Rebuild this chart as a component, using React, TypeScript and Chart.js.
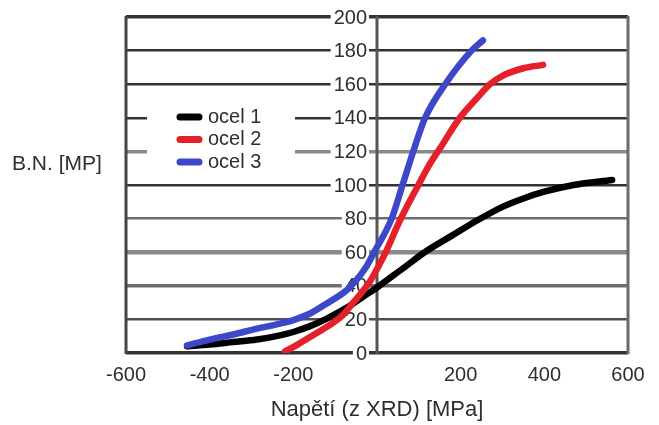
import React, { useEffect, useRef } from 'react';
import { Chart, registerables } from 'chart.js';

Chart.register(...registerables);

// ---- data ----
const seriesNames = ['ocel 1', 'ocel 2', 'ocel 3'];
const seriesColors = ['#000000', '#e4202a', '#3d47c9'];

const ocel1X = [-454, -400, -344, -287, -232, -200, -160, -120, -72, -30, 0, 60, 120, 180, 240, 300, 350, 400, 470, 562];
const ocel1Y = [4, 5, 6.5, 8, 10.5, 12.5, 16, 20.5, 27, 34, 39, 50, 61, 70, 79, 87, 92, 96, 100, 103];

const ocel2X = [-220, -190, -160, -130, -105, -80, -57, -35, -17, 0, 19, 55, 99, 125, 151, 198, 240, 270, 300, 350, 397];
const ocel2Y = [1, 5, 9.5, 14, 18, 23, 30, 36.5, 42.5, 50, 59, 79, 100, 112, 122, 140, 152, 160, 165, 169.5, 171.5];

const ocel3X = [-454, -400, -344, -287, -232, -200, -160, -120, -72, -41, -24, -9, 35, 61, 88, 115, 163, 226, 253];
const ocel3Y = [4.5, 8, 11, 14.5, 17.5, 19.6, 23.5, 29.5, 37.5, 46, 52, 59, 80, 100, 121, 140, 160, 180, 186];

const xMin = -600;
const xMax = 600;
const xStep = 200;
const yMin = 0;
const yMax = 200;
const yStep = 20;

const xTitle = 'Napětí (z XRD) [MPa]';
const yTitle = 'B.N. [MP]';

// ---- styles ----
const FONT = '"Liberation Sans", Arial, Helvetica, sans-serif';
const TEXT = '#2e2e2e';

function gridColor(v: number) {
  if (v === 120 || v === 60) return '#8a8a8a';
  if (v === 80 || v === 40) return '#6e6e6e';
  if (v === 20) return '#505050';
  return '#333333';
}
function gridWidth(v: number) {
  if (v === 60) return 4.5;
  if (v === 120 || v === 40 || v === 0 || v === 200) return 3.5;
  return 2.5;
}

const decorPlugin = {
  id: 'decor',
  beforeDatasetsDraw(chart: any) {
    const { ctx, chartArea: a, scales } = chart;
    const x0 = scales.x.getPixelForValue(0);
    ctx.save();
    ctx.setLineDash([]);
    ctx.globalCompositeOperation = 'source-over';
    ctx.globalAlpha = 1;

    // y tick labels beside the vertical axis (white box behind each)
    ctx.font = `20px ${FONT}`;
    ctx.textAlign = 'right';
    ctx.textBaseline = 'middle';
    scales.y.ticks.forEach((t: any) => {
      const yy = scales.y.getPixelForValue(t.value);
      const label = String(t.value);
      const w = ctx.measureText(label).width;
      ctx.fillStyle = '#ffffff';
      ctx.fillRect(x0 - 10 - w - 3, yy - 10, w + 5, 20);
      ctx.fillStyle = TEXT;
      ctx.fillText(label, x0 - 10, yy + 1);
    });

    // frame sides and vertical axis
    ctx.lineCap = 'butt';
    ctx.lineWidth = 3;
    ctx.strokeStyle = '#454545';
    ctx.beginPath();
    ctx.moveTo(a.left, a.top - 1);
    ctx.lineTo(a.left, a.bottom + 1);
    ctx.stroke();
    ctx.strokeStyle = '#6a6a6a';
    ctx.beginPath();
    ctx.moveTo(a.right, a.top - 1);
    ctx.lineTo(a.right, a.bottom + 1);
    ctx.stroke();
    ctx.strokeStyle = '#555555';
    ctx.beginPath();
    ctx.moveTo(x0, a.top - 1);
    ctx.lineTo(x0, a.bottom + 1);
    ctx.stroke();

    // legend
    const lx = a.left + 21;
    const ly = a.top + 82;
    ctx.fillStyle = '#ffffff';
    ctx.fillRect(lx, ly, 148, 76);
    ctx.font = `20px ${FONT}`;
    ctx.textBaseline = 'middle';
    ctx.textAlign = 'left';
    chart.data.datasets.forEach((ds: any, i: number) => {
      const y = ly + 18 + i * 22.5;
      ctx.strokeStyle = ds.borderColor;
      ctx.lineWidth = 7;
      ctx.lineCap = 'round';
      ctx.beginPath();
      ctx.moveTo(lx + 33, y);
      ctx.lineTo(lx + 52, y);
      ctx.stroke();
      ctx.fillStyle = TEXT;
      ctx.fillText(ds.label, lx + 61, y);
    });
    ctx.restore();
  },
  afterDraw(chart: any) {
    const { ctx } = chart;
    ctx.save();
    ctx.font = `21px ${FONT}`;
    ctx.fillStyle = TEXT;
    ctx.textAlign = 'left';
    ctx.textBaseline = 'middle';
    ctx.fillText(yTitle, 12, 164);
    ctx.restore();
  },
};

export default function App() {
  const ref = useRef<HTMLCanvasElement>(null);

  useEffect(() => {
    const xs = [ocel1X, ocel2X, ocel3X];
    const ys = [ocel1Y, ocel2Y, ocel3Y];
    const chart = new Chart(ref.current as HTMLCanvasElement, {
      type: 'line',
      data: {
        datasets: seriesNames.map((name, i) => ({
          label: name,
          data: xs[i].map((x, j) => ({ x, y: ys[i][j] })),
          borderColor: seriesColors[i],
          backgroundColor: seriesColors[i],
          borderWidth: 6.5,
          borderDash: [],
          pointRadius: 0,
          fill: false,
          cubicInterpolationMode: 'monotone' as const,
          borderCapStyle: 'round' as const,
          borderJoinStyle: 'round' as const,
          order: 3 - i,
        })),
      },
      options: {
        animation: false,
        responsive: false,
        maintainAspectRatio: false,
        layout: { padding: { left: 126, right: 31, top: 17, bottom: 0 } },
        plugins: {
          legend: { display: false },
          tooltip: { enabled: false },
        },
        scales: {
          x: {
            type: 'linear',
            position: 'bottom',
            min: xMin,
            max: xMax,
            afterFit: (s: any) => {
              s.height = 72;
            },
            grid: { display: false, drawTicks: false },
            border: { display: false },
            ticks: {
              stepSize: xStep,
              padding: 10,
              autoSkip: false,
              maxRotation: 0,
              color: TEXT,
              font: { family: FONT, size: 20 },
              callback: (v: any) => (Number(v) === 0 ? '' : String(v)),
            },
            title: {
              display: true,
              text: xTitle,
              color: TEXT,
              font: { family: FONT, size: 22 },
              padding: { top: 0, bottom: 2 },
            },
          },
          y: {
            type: 'linear',
            position: 'left',
            min: yMin,
            max: yMax,
            afterFit: (s: any) => {
              s.width = 0;
            },
            grid: {
              drawTicks: false,
              color: (c: any) => gridColor(c.tick ? c.tick.value : 0),
              lineWidth: (c: any) => gridWidth(c.tick ? c.tick.value : 0),
            },
            border: { display: false },
            ticks: {
              stepSize: yStep,
              display: false,
            },
          },
        },
      },
      plugins: [decorPlugin],
    } as any);
    return () => chart.destroy();
  }, []);

  return (
    <div style={{ position: 'fixed', left: 0, top: 0, width: 659, height: 425, background: '#ffffff' }}>
      <canvas ref={ref} width={659} height={425} style={{ display: 'block' }} />
    </div>
  );
}
